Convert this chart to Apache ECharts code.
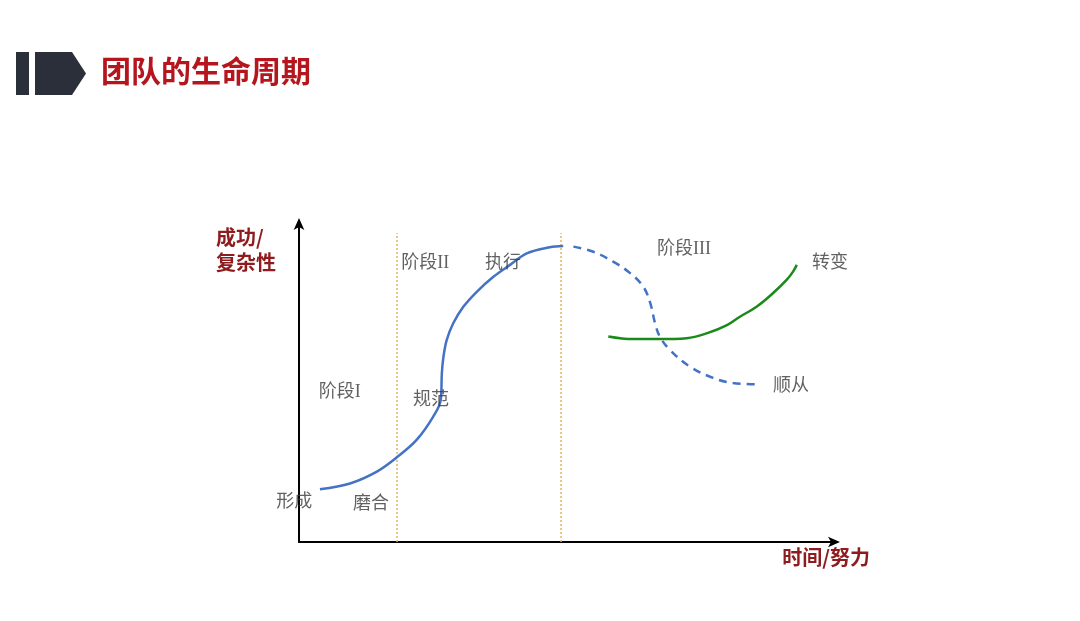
<!DOCTYPE html>
<html><head><meta charset="utf-8">
<script src="https://cdn.jsdelivr.net/npm/echarts@6/dist/echarts.min.js"></script>
<style>html,body{margin:0;padding:0;background:#fff}#c{width:1080px;height:621px}</style>
</head><body><div id="c"></div>
<script>
// Stage boundaries (x positions of the dotted dividers)
var stageBounds = [18.25, 48.8];
var dividerTop = 96.6;
// Main life-cycle curve (solid part)
var mainCurve = [[3.9,16.5],[9.5,18.3],[14.5,22.0],[18.4,26.7],[21.9,31.9],[25.0,39.2],[26.4,44.4],[26.6,52.7],[26.9,57.9],[27.5,63.1],[28.7,68.3],[30.6,73.5],[33.1,78.2],[36.2,82.9],[39.3,86.6],[42.4,90.2],[46.7,92.1],[49.2,92.5]];
// Decline path (dashed) towards compliance
var declineCurve = [[51.1,92.3],[54.8,90.7],[58.5,87.6],[61.6,84.1],[64.1,79.8],[65.4,74.7],[66.3,68.4],[67.2,64.2],[69.1,60.0],[72.8,54.8],[77.1,51.3],[80.8,49.7],[85.2,49.3]];
// Transformation path (green)
var transformCurve = [[57.6,64.2],[62.2,63.4],[67.2,63.4],[72.2,63.7],[75.9,65.2],[79.7,67.8],[82.1,70.4],[85.2,73.5],[88.3,77.8],[90.8,81.9],[92.0,84.5],[92.7,86.6]];
// Text labels placed in data coordinates
var labelNames = ['阶段I','形成','磨合','阶段II','规范','执行','阶段III','转变','顺从'];
var labelPos = [[7.6,46.9],[-0.9,12.5],[13.4,11.9],[23.5,87.2],[24.6,44.4],[38.0,87.2],[71.7,91.6],[98.9,87.2],[91.6,48.75]];

var chart = echarts.init(document.getElementById('c'));
var dividerSeries = stageBounds.map(function(x){
  return {type:'line', data:[[x,0],[x,dividerTop]], symbol:'none', silent:true,
    lineStyle:{color:'#e3b65a', width:1.5, type:[2,2]}, z:1};
});
var labelFont = '"Liberation Serif", "Noto Sans CJK SC", serif';
chart.setOption({
  animation:false,
  grid:{left:299, right:244, top:222, bottom:79},
  xAxis:{type:'value', min:0, max:100, splitLine:{show:false}, axisTick:{show:false}, axisLabel:{show:false},
    axisLine:{lineStyle:{color:'#000', width:2}, symbol:['none','arrow'], symbolSize:[8,12], symbolOffset:[0,4]},
    name:'时间/努力', nameLocation:'end', nameGap:34,
    nameTextStyle:{align:'right', verticalAlign:'top', padding:[5,0,0,0], color:'#8e1c1f', fontSize:20, fontWeight:'bold', fontFamily:'"Noto Sans CJK SC", sans-serif'}},
  yAxis:{type:'value', min:0, max:100, splitLine:{show:false}, axisTick:{show:false}, axisLabel:{show:false},
    axisLine:{lineStyle:{color:'#000', width:2}, symbol:['none','arrow'], symbolSize:[8,12], symbolOffset:[0,4]}},
  graphic:[
    {type:'rect', shape:{x:16, y:52, width:13, height:43}, style:{fill:'#2b2f3a'}},
    {type:'polygon', shape:{points:[[35,52],[72,52],[86,73.5],[72,95],[35,95]]}, style:{fill:'#2b2f3a'}},
    {type:'text', left:101, top:56, style:{text:'团队的生命周期', fill:'#b5161e', fontSize:30, fontWeight:'bold', fontFamily:'"Noto Sans CJK SC", sans-serif'}},
    {type:'text', left:216, top:225, style:{text:'成功/\n复杂性', fill:'#8e1c1f', fontSize:20, lineHeight:25, fontWeight:'bold', fontFamily:'"Noto Sans CJK SC", sans-serif'}}
  ],
  series: dividerSeries.concat([
    {type:'line', data:mainCurve, smooth:0.35, symbol:'none', lineStyle:{color:'#4472c4', width:2.5}, z:3},
    {type:'line', data:declineCurve, smooth:0.4, symbol:'none', lineStyle:{color:'#4472c4', width:2.5, type:[8,6]}, z:3},
    {type:'line', data:transformCurve, smooth:0.4, symbol:'none', lineStyle:{color:'#1a8a1a', width:2.5}, z:3},
    {type:'scatter', symbolSize:0, clip:false, silent:true, z:5,
      data:labelNames.map(function(n,i){return {name:n, value:labelPos[i]};}),
      label:{show:true, position:'inside', formatter:'{b}', color:'#3a3a3a', fontSize:18, fontFamily:labelFont}}
  ])
});
</script></body></html>
